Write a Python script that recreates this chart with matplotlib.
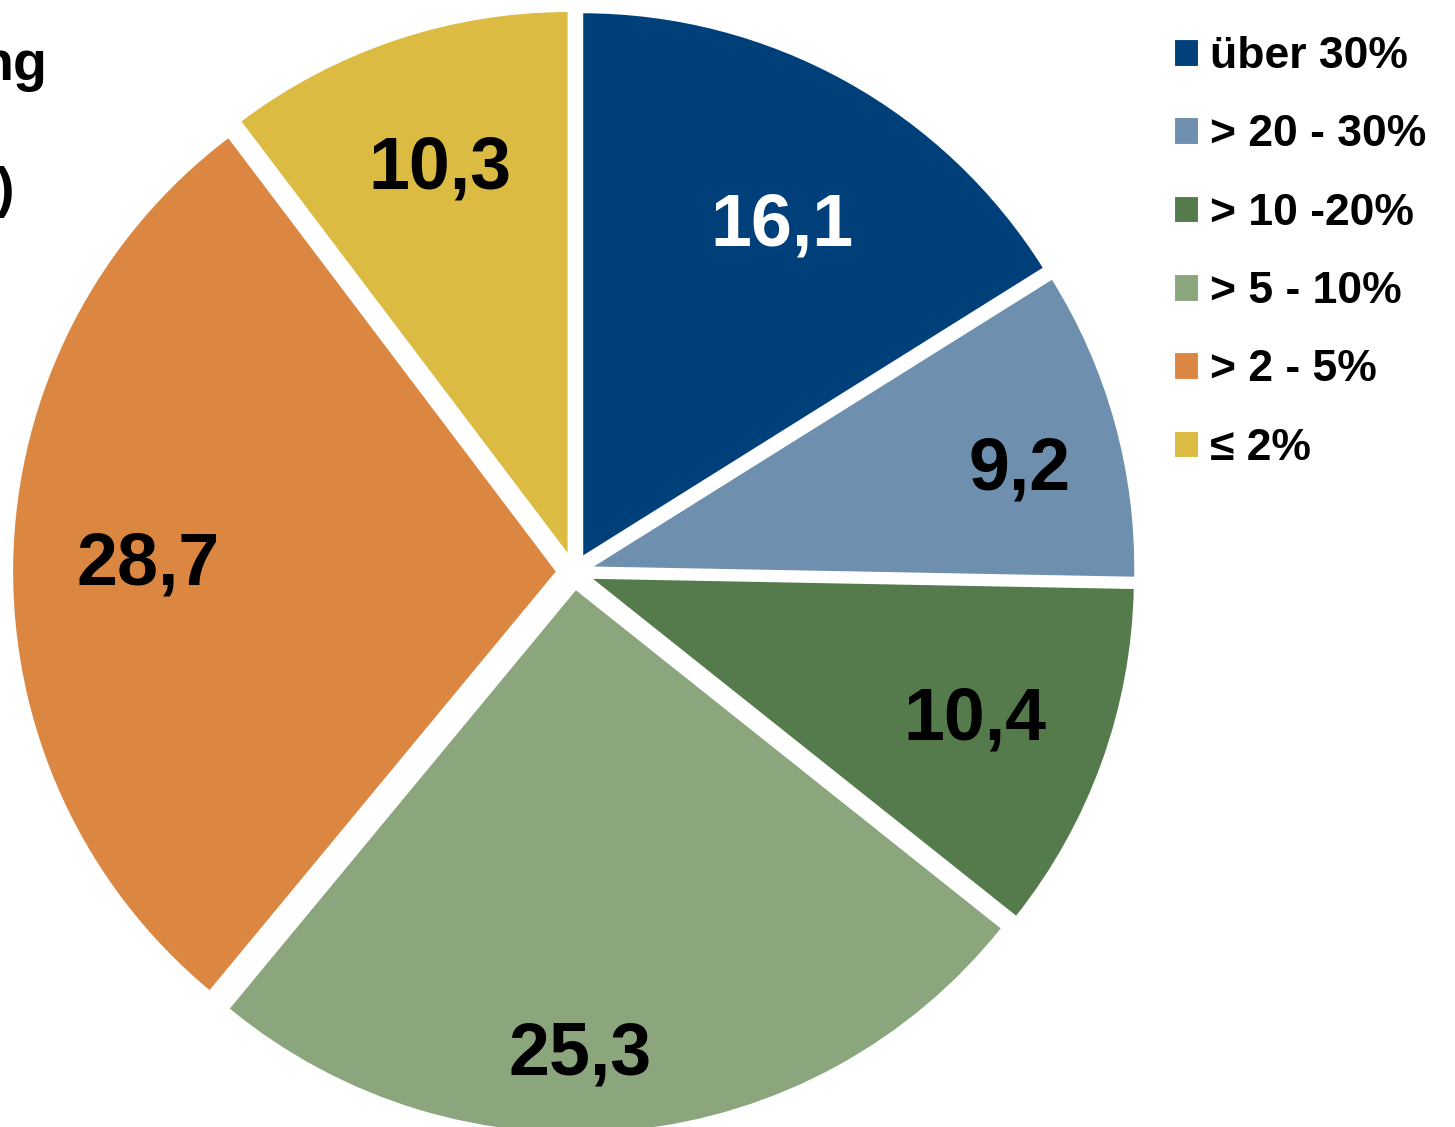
import matplotlib.pyplot as plt
from matplotlib.patches import Patch
import numpy as np

plt.rcParams['font.family'] = ['Liberation Sans', 'DejaVu Sans']

# data
categories = ['über 30%', '> 20 - 30%', '> 10 -20%', '> 5 - 10%', '> 2 - 5%', '≤ 2%']
values = [16.1, 9.2, 10.4, 25.3, 28.7, 10.3]
value_labels = ['16,1', '9,2', '10,4', '25,3', '28,7', '10,3']

colors = ['#00407A', '#6E8FAE', '#557B4C', '#8BA67D', '#DB8641', '#DBBB42']
label_colors = ['white', 'black', 'black', 'black', 'black', 'black']
# label placement: distance from centre (radius units), angle tweak (deg)
label_dist = [0.752, 0.842, 0.780, 0.873, 0.782, 0.791]
label_shift = [-1.5, -1.8, 0.4, -5.2, -0.6, -0.4]

W, H = 1455, 1127
R = 545.0          # pie radius in px
cx, cy = 574, 572  # pie centre in px (from top-left)
label_fs = 53

fig = plt.figure(figsize=(W / 100, H / 100), dpi=100)
ax = fig.add_axes([0, 0, 1, 1])

explode = [0.031] * len(values)
wedges, _ = ax.pie(values, colors=colors, startangle=90, counterclock=False,
                   explode=explode, radius=1,
                   wedgeprops=dict(edgecolor='white', linewidth=1.5))

cap = label_fs * 100 / 72 * 0.72 / R  # cap height in data units
for w, lab, col, dist, sh in zip(wedges, value_labels, label_colors,
                                 label_dist, label_shift):
    ang = np.deg2rad((w.theta1 + w.theta2) / 2 + sh)
    x = dist * np.cos(ang)
    y = dist * np.sin(ang)
    ax.text(x, y - cap / 2, lab, ha='center', va='baseline', fontsize=label_fs,
            fontweight='bold', color=col)

ax.set_xlim(-cx / R, (W - cx) / R)
ax.set_ylim(-(H - cy) / R, cy / R)
ax.set_aspect('auto')
ax.axis('off')

# cut-off title at the left edge
fig.text(47 / W, 1 - 80 / H, 'ng', ha='right', va='baseline', fontsize=40,
         fontweight='bold')
fig.text(14 / W, 1 - 206 / H, ')', ha='right', va='baseline', fontsize=40,
         fontweight='bold')

handles = [Patch(facecolor=c, edgecolor='white', linewidth=0.8) for c in colors]
fig.legend(handles, categories, loc='upper left',
           bbox_to_anchor=(1174 / W, 1 - 36 / H), frameon=False,
           prop=dict(size=32, weight='bold'), handlelength=0.54,
           handleheight=0.54, handletextpad=0.27, labelspacing=0.84,
           borderaxespad=0, borderpad=0)

fig.savefig('out.png', dpi=100)
